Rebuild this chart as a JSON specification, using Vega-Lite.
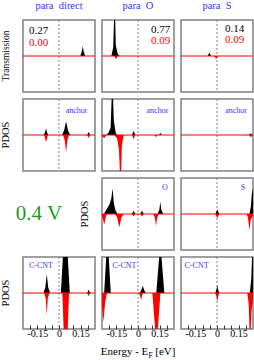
{
"$schema":"https://vega.github.io/schema/vega-lite/v6.json",
"padding":{"left":0,"top":0,"right":0,"bottom":4},
"datasets":{"curves":[
{"p":"T1","s":"up","x":-0.25,"y":0},{"p":"T1","s":"up","x":0.148,"y":0},{"p":"T1","s":"up","x":0.158,"y":0.12},{"p":"T1","s":"up","x":0.165,"y":0.27},{"p":"T1","s":"up","x":0.172,"y":0.12},{"p":"T1","s":"up","x":0.182,"y":0},{"p":"T1","s":"up","x":0.25,"y":0},
{"p":"T1","s":"dn","x":-0.25,"y":0},{"p":"T1","s":"dn","x":0.25,"y":0},
{"p":"T2","s":"up","x":-0.25,"y":0},{"p":"T2","s":"up","x":-0.185,"y":0},{"p":"T2","s":"up","x":-0.172,"y":0.25},{"p":"T2","s":"up","x":-0.162,"y":1.6},{"p":"T2","s":"up","x":-0.154,"y":0.3},{"p":"T2","s":"up","x":-0.14,"y":0.05},{"p":"T2","s":"up","x":-0.125,"y":0},{"p":"T2","s":"up","x":0.25,"y":0},
{"p":"T2","s":"dn","x":-0.25,"y":0},{"p":"T2","s":"dn","x":-0.165,"y":0},{"p":"T2","s":"dn","x":-0.153,"y":-0.09},{"p":"T2","s":"dn","x":-0.142,"y":0},{"p":"T2","s":"dn","x":0.25,"y":0},
{"p":"T3","s":"up","x":-0.25,"y":0},{"p":"T3","s":"up","x":-0.066,"y":0},{"p":"T3","s":"up","x":-0.053,"y":0.09},{"p":"T3","s":"up","x":-0.04,"y":0},{"p":"T3","s":"up","x":0.25,"y":0},
{"p":"T3","s":"dn","x":-0.25,"y":0},{"p":"T3","s":"dn","x":-0.018,"y":0},{"p":"T3","s":"dn","x":-0.006,"y":-0.09},{"p":"T3","s":"dn","x":0.006,"y":0},{"p":"T3","s":"dn","x":0.25,"y":0},
{"p":"A1","s":"up","x":-0.25,"y":0},{"p":"A1","s":"up","x":-0.106,"y":0},{"p":"A1","s":"up","x":-0.097,"y":0.07},{"p":"A1","s":"up","x":-0.09,"y":0.19},{"p":"A1","s":"up","x":-0.083,"y":0.07},{"p":"A1","s":"up","x":-0.074,"y":0},{"p":"A1","s":"up","x":0.02,"y":0},{"p":"A1","s":"up","x":0.035,"y":0.12},{"p":"A1","s":"up","x":0.049,"y":0.38},{"p":"A1","s":"up","x":0.063,"y":0.12},{"p":"A1","s":"up","x":0.078,"y":0},{"p":"A1","s":"up","x":0.195,"y":0},{"p":"A1","s":"up","x":0.206,"y":0.08},{"p":"A1","s":"up","x":0.217,"y":0},{"p":"A1","s":"up","x":0.25,"y":0},
{"p":"A1","s":"dn","x":-0.25,"y":0},{"p":"A1","s":"dn","x":-0.103,"y":0},{"p":"A1","s":"dn","x":-0.09,"y":-0.2},{"p":"A1","s":"dn","x":-0.077,"y":0},{"p":"A1","s":"dn","x":0.028,"y":0},{"p":"A1","s":"dn","x":0.04,"y":-0.15},{"p":"A1","s":"dn","x":0.049,"y":-0.48},{"p":"A1","s":"dn","x":0.058,"y":-0.15},{"p":"A1","s":"dn","x":0.07,"y":0},{"p":"A1","s":"dn","x":0.195,"y":0},{"p":"A1","s":"dn","x":0.206,"y":-0.08},{"p":"A1","s":"dn","x":0.217,"y":0},{"p":"A1","s":"dn","x":0.25,"y":0},
{"p":"A2","s":"up","x":-0.25,"y":0},{"p":"A2","s":"up","x":-0.222,"y":0},{"p":"A2","s":"up","x":-0.205,"y":0.06},{"p":"A2","s":"up","x":-0.19,"y":0.2},{"p":"A2","s":"up","x":-0.178,"y":1.6},{"p":"A2","s":"up","x":-0.168,"y":0.4},{"p":"A2","s":"up","x":-0.155,"y":0.06},{"p":"A2","s":"up","x":-0.145,"y":0},{"p":"A2","s":"up","x":-0.042,"y":0},{"p":"A2","s":"up","x":-0.03,"y":0.11},{"p":"A2","s":"up","x":-0.018,"y":0},{"p":"A2","s":"up","x":0.145,"y":0},{"p":"A2","s":"up","x":0.155,"y":0.06},{"p":"A2","s":"up","x":0.165,"y":0},{"p":"A2","s":"up","x":0.25,"y":0},
{"p":"A2","s":"dn","x":-0.25,"y":-0.03},{"p":"A2","s":"dn","x":-0.234,"y":-0.09},{"p":"A2","s":"dn","x":-0.22,"y":0},{"p":"A2","s":"dn","x":-0.165,"y":0},{"p":"A2","s":"dn","x":-0.145,"y":-0.1},{"p":"A2","s":"dn","x":-0.132,"y":-0.4},{"p":"A2","s":"dn","x":-0.12,"y":-1.6},{"p":"A2","s":"dn","x":-0.112,"y":-0.3},{"p":"A2","s":"dn","x":-0.1,"y":0},{"p":"A2","s":"dn","x":-0.042,"y":0},{"p":"A2","s":"dn","x":-0.03,"y":-0.11},{"p":"A2","s":"dn","x":-0.018,"y":0},{"p":"A2","s":"dn","x":0.115,"y":0},{"p":"A2","s":"dn","x":0.125,"y":-0.06},{"p":"A2","s":"dn","x":0.135,"y":0},{"p":"A2","s":"dn","x":0.25,"y":0},
{"p":"A3","s":"up","x":-0.25,"y":0},{"p":"A3","s":"up","x":0.222,"y":0},{"p":"A3","s":"up","x":0.234,"y":0.05},{"p":"A3","s":"up","x":0.246,"y":0},{"p":"A3","s":"up","x":0.25,"y":0},
{"p":"A3","s":"dn","x":-0.25,"y":0},{"p":"A3","s":"dn","x":0.224,"y":0},{"p":"A3","s":"dn","x":0.236,"y":-0.06},{"p":"A3","s":"dn","x":0.248,"y":0},{"p":"A3","s":"dn","x":0.25,"y":0},
{"p":"O2","s":"up","x":-0.25,"y":0},{"p":"O2","s":"up","x":-0.237,"y":0},{"p":"O2","s":"up","x":-0.22,"y":0.12},{"p":"O2","s":"up","x":-0.2,"y":0.25},{"p":"O2","s":"up","x":-0.186,"y":0.42},{"p":"O2","s":"up","x":-0.176,"y":0.71},{"p":"O2","s":"up","x":-0.168,"y":0.3},{"p":"O2","s":"up","x":-0.155,"y":0.08},{"p":"O2","s":"up","x":-0.14,"y":0},{"p":"O2","s":"up","x":-0.042,"y":0},{"p":"O2","s":"up","x":-0.03,"y":0.09},{"p":"O2","s":"up","x":-0.018,"y":0},{"p":"O2","s":"up","x":0.016,"y":0},{"p":"O2","s":"up","x":0.028,"y":0.09},{"p":"O2","s":"up","x":0.04,"y":0},{"p":"O2","s":"up","x":0.135,"y":0},{"p":"O2","s":"up","x":0.148,"y":0.12},{"p":"O2","s":"up","x":0.155,"y":0.34},{"p":"O2","s":"up","x":0.162,"y":0.12},{"p":"O2","s":"up","x":0.175,"y":0},{"p":"O2","s":"up","x":0.25,"y":0},
{"p":"O2","s":"dn","x":-0.25,"y":-0.05},{"p":"O2","s":"dn","x":-0.234,"y":-0.29},{"p":"O2","s":"dn","x":-0.222,"y":-0.04},{"p":"O2","s":"dn","x":-0.205,"y":0},{"p":"O2","s":"dn","x":-0.16,"y":0},{"p":"O2","s":"dn","x":-0.145,"y":-0.1},{"p":"O2","s":"dn","x":-0.13,"y":-0.37},{"p":"O2","s":"dn","x":-0.115,"y":-0.1},{"p":"O2","s":"dn","x":-0.1,"y":0},{"p":"O2","s":"dn","x":-0.042,"y":0},{"p":"O2","s":"dn","x":-0.03,"y":-0.07},{"p":"O2","s":"dn","x":-0.018,"y":0},{"p":"O2","s":"dn","x":0.016,"y":0},{"p":"O2","s":"dn","x":0.028,"y":-0.07},{"p":"O2","s":"dn","x":0.04,"y":0},{"p":"O2","s":"dn","x":0.105,"y":0},{"p":"O2","s":"dn","x":0.117,"y":-0.1},{"p":"O2","s":"dn","x":0.125,"y":-0.33},{"p":"O2","s":"dn","x":0.133,"y":-0.1},{"p":"O2","s":"dn","x":0.145,"y":0},{"p":"O2","s":"dn","x":0.25,"y":0},
{"p":"S3","s":"up","x":-0.25,"y":0},{"p":"S3","s":"up","x":-0.012,"y":0},{"p":"S3","s":"up","x":0.002,"y":0.11},{"p":"S3","s":"up","x":0.016,"y":0},{"p":"S3","s":"up","x":0.225,"y":0},{"p":"S3","s":"up","x":0.235,"y":0.2},{"p":"S3","s":"up","x":0.245,"y":0.72},{"p":"S3","s":"up","x":0.25,"y":0.55},
{"p":"S3","s":"dn","x":-0.25,"y":0},{"p":"S3","s":"dn","x":-0.012,"y":0},{"p":"S3","s":"dn","x":0.002,"y":-0.12},{"p":"S3","s":"dn","x":0.016,"y":0},{"p":"S3","s":"dn","x":0.205,"y":0},{"p":"S3","s":"dn","x":0.215,"y":-0.1},{"p":"S3","s":"dn","x":0.225,"y":-0.45},{"p":"S3","s":"dn","x":0.235,"y":-0.15},{"p":"S3","s":"dn","x":0.25,"y":-0.05},
{"p":"C1","s":"up","x":-0.25,"y":0},{"p":"C1","s":"up","x":-0.108,"y":0},{"p":"C1","s":"up","x":-0.095,"y":0.15},{"p":"C1","s":"up","x":-0.085,"y":0.53},{"p":"C1","s":"up","x":-0.075,"y":0.15},{"p":"C1","s":"up","x":-0.062,"y":0},{"p":"C1","s":"up","x":0.013,"y":0},{"p":"C1","s":"up","x":0.044,"y":2.25},{"p":"C1","s":"up","x":0.075,"y":0},{"p":"C1","s":"up","x":0.195,"y":0},{"p":"C1","s":"up","x":0.206,"y":0.09},{"p":"C1","s":"up","x":0.217,"y":0},{"p":"C1","s":"up","x":0.25,"y":0},
{"p":"C1","s":"dn","x":-0.25,"y":0},{"p":"C1","s":"dn","x":-0.103,"y":0},{"p":"C1","s":"dn","x":-0.092,"y":-0.15},{"p":"C1","s":"dn","x":-0.085,"y":-0.61},{"p":"C1","s":"dn","x":-0.078,"y":-0.15},{"p":"C1","s":"dn","x":-0.067,"y":0},{"p":"C1","s":"dn","x":0.023,"y":0},{"p":"C1","s":"dn","x":0.0465,"y":-2.5},{"p":"C1","s":"dn","x":0.07,"y":0},{"p":"C1","s":"dn","x":0.195,"y":0},{"p":"C1","s":"dn","x":0.206,"y":-0.09},{"p":"C1","s":"dn","x":0.217,"y":0},{"p":"C1","s":"dn","x":0.25,"y":0},
{"p":"C2","s":"up","x":-0.25,"y":0},{"p":"C2","s":"up","x":-0.235,"y":0},{"p":"C2","s":"up","x":-0.212,"y":1.6},{"p":"C2","s":"up","x":-0.189,"y":0},{"p":"C2","s":"up","x":0.01,"y":0},{"p":"C2","s":"up","x":0.022,"y":0.07},{"p":"C2","s":"up","x":0.033,"y":0.2},{"p":"C2","s":"up","x":0.044,"y":0.07},{"p":"C2","s":"up","x":0.056,"y":0},{"p":"C2","s":"up","x":0.127,"y":0},{"p":"C2","s":"up","x":0.155,"y":1.4},{"p":"C2","s":"up","x":0.183,"y":0},{"p":"C2","s":"up","x":0.25,"y":0},
{"p":"C2","s":"dn","x":-0.25,"y":-0.35},{"p":"C2","s":"dn","x":-0.24,"y":-0.8},{"p":"C2","s":"dn","x":-0.228,"y":-0.25},{"p":"C2","s":"dn","x":-0.215,"y":0},{"p":"C2","s":"dn","x":0.005,"y":0},{"p":"C2","s":"dn","x":0.014,"y":-0.07},{"p":"C2","s":"dn","x":0.021,"y":-0.2},{"p":"C2","s":"dn","x":0.028,"y":-0.07},{"p":"C2","s":"dn","x":0.037,"y":0},{"p":"C2","s":"dn","x":0.1,"y":0},{"p":"C2","s":"dn","x":0.128,"y":-1.5},{"p":"C2","s":"dn","x":0.156,"y":0},{"p":"C2","s":"dn","x":0.25,"y":0},
{"p":"C3","s":"up","x":-0.25,"y":0},{"p":"C3","s":"up","x":-0.013,"y":0},{"p":"C3","s":"up","x":-0.004,"y":0.08},{"p":"C3","s":"up","x":0.002,"y":0.22},{"p":"C3","s":"up","x":0.008,"y":0.08},{"p":"C3","s":"up","x":0.017,"y":0},{"p":"C3","s":"up","x":0.228,"y":0},{"p":"C3","s":"up","x":0.238,"y":0.4},{"p":"C3","s":"up","x":0.248,"y":1.5},{"p":"C3","s":"up","x":0.25,"y":1.4},
{"p":"C3","s":"dn","x":-0.25,"y":0},{"p":"C3","s":"dn","x":-0.013,"y":0},{"p":"C3","s":"dn","x":-0.004,"y":-0.09},{"p":"C3","s":"dn","x":0.002,"y":-0.25},{"p":"C3","s":"dn","x":0.008,"y":-0.09},{"p":"C3","s":"dn","x":0.017,"y":0},{"p":"C3","s":"dn","x":0.21,"y":0},{"p":"C3","s":"dn","x":0.22,"y":-0.3},{"p":"C3","s":"dn","x":0.23,"y":-1.5},{"p":"C3","s":"dn","x":0.24,"y":-0.5},{"p":"C3","s":"dn","x":0.25,"y":-0.2}
]},
"columns":3,
"spacing":7,
"bounds":"flush",
"concat":[
{"width":72,"height":72,"title":{"text":"para\u00a0 direct"},"layer":[
 {"data":{"values":[{}]},"mark":{"type":"rule","strokeDash":[2,2],"color":"#808080","strokeWidth":1},"encoding":{"x":{"datum":0,"type":"quantitative","axis":null}}},
 {"data":{"name":"curves"},"transform":[{"filter":"datum.p==='T1'"}],"mark":{"type":"area","clip":true},"encoding":{"x":{"field":"x","type":"quantitative","scale":{"domain":[-0.25,0.25],"nice":false},"axis":null},"y":{"field":"y","type":"quantitative","stack":null,"scale":{"domain":[-1,1],"nice":false},"axis":null},"color":{"field":"s","type":"nominal","scale":{"domain":["up","dn"],"range":["black","red"]},"legend":null}}},
 {"data":{"values":[{}]},"mark":{"type":"rule","color":"red","strokeWidth":1},"encoding":{"y":{"datum":0,"type":"quantitative","axis":null}}},
 {"data":{"values":[{}]},"mark":{"type":"text","text":"Transmission","angle":270,"fontSize":9.5,"color":"black"},"encoding":{"x":{"datum":-0.365,"type":"quantitative","axis":null},"y":{"datum":0,"type":"quantitative","axis":null}}},
 {"data":{"values":[{}]},"mark":{"type":"text","text":"0.27","align":"left","fontSize":11,"color":"black"},"encoding":{"x":{"datum":-0.208,"type":"quantitative","axis":null},"y":{"datum":0.7,"type":"quantitative","axis":null}}},
 {"data":{"values":[{}]},"mark":{"type":"text","text":"0.00","align":"left","fontSize":11,"color":"red"},"encoding":{"x":{"datum":-0.208,"type":"quantitative","axis":null},"y":{"datum":0.37,"type":"quantitative","axis":null}}}
]},
{"width":72,"height":72,"title":{"text":"para\u00a0 O"},"layer":[
 {"data":{"values":[{}]},"mark":{"type":"rule","strokeDash":[2,2],"color":"#808080","strokeWidth":1},"encoding":{"x":{"datum":0,"type":"quantitative","axis":null}}},
 {"data":{"name":"curves"},"transform":[{"filter":"datum.p==='T2'"}],"mark":{"type":"area","clip":true},"encoding":{"x":{"field":"x","type":"quantitative","scale":{"domain":[-0.25,0.25],"nice":false},"axis":null},"y":{"field":"y","type":"quantitative","stack":null,"scale":{"domain":[-1,1],"nice":false},"axis":null},"color":{"field":"s","type":"nominal","scale":{"domain":["up","dn"],"range":["black","red"]},"legend":null}}},
 {"data":{"values":[{}]},"mark":{"type":"rule","color":"red","strokeWidth":1},"encoding":{"y":{"datum":0,"type":"quantitative","axis":null}}},
 {"data":{"values":[{}]},"mark":{"type":"text","text":"0.77","align":"right","fontSize":11,"color":"black"},"encoding":{"x":{"datum":0.224,"type":"quantitative","axis":null},"y":{"datum":0.73,"type":"quantitative","axis":null}}},
 {"data":{"values":[{}]},"mark":{"type":"text","text":"0.09","align":"right","fontSize":11,"color":"red"},"encoding":{"x":{"datum":0.224,"type":"quantitative","axis":null},"y":{"datum":0.42,"type":"quantitative","axis":null}}}
]},
{"width":72,"height":72,"title":{"text":"para\u00a0 S"},"layer":[
 {"data":{"values":[{}]},"mark":{"type":"rule","strokeDash":[2,2],"color":"#808080","strokeWidth":1},"encoding":{"x":{"datum":0,"type":"quantitative","axis":null}}},
 {"data":{"name":"curves"},"transform":[{"filter":"datum.p==='T3'"}],"mark":{"type":"area","clip":true},"encoding":{"x":{"field":"x","type":"quantitative","scale":{"domain":[-0.25,0.25],"nice":false},"axis":null},"y":{"field":"y","type":"quantitative","stack":null,"scale":{"domain":[-1,1],"nice":false},"axis":null},"color":{"field":"s","type":"nominal","scale":{"domain":["up","dn"],"range":["black","red"]},"legend":null}}},
 {"data":{"values":[{}]},"mark":{"type":"rule","color":"red","strokeWidth":1},"encoding":{"y":{"datum":0,"type":"quantitative","axis":null}}},
 {"data":{"values":[{}]},"mark":{"type":"text","text":"0.14","align":"right","fontSize":11,"color":"black"},"encoding":{"x":{"datum":0.19,"type":"quantitative","axis":null},"y":{"datum":0.74,"type":"quantitative","axis":null}}},
 {"data":{"values":[{}]},"mark":{"type":"text","text":"0.09","align":"right","fontSize":11,"color":"red"},"encoding":{"x":{"datum":0.19,"type":"quantitative","axis":null},"y":{"datum":0.44,"type":"quantitative","axis":null}}}
]},
{"width":72,"height":72,"layer":[
 {"data":{"values":[{}]},"mark":{"type":"rule","strokeDash":[2,2],"color":"#808080","strokeWidth":1},"encoding":{"x":{"datum":0,"type":"quantitative","axis":null}}},
 {"data":{"name":"curves"},"transform":[{"filter":"datum.p==='A1'"}],"mark":{"type":"area","clip":true},"encoding":{"x":{"field":"x","type":"quantitative","scale":{"domain":[-0.25,0.25],"nice":false},"axis":null},"y":{"field":"y","type":"quantitative","stack":null,"scale":{"domain":[-1,1],"nice":false},"axis":null},"color":{"field":"s","type":"nominal","scale":{"domain":["up","dn"],"range":["black","red"]},"legend":null}}},
 {"data":{"values":[{}]},"mark":{"type":"rule","color":"red","strokeWidth":1},"encoding":{"y":{"datum":0,"type":"quantitative","axis":null}}},
 {"data":{"values":[{}]},"mark":{"type":"text","text":"PDOS","angle":270,"fontSize":10.5,"color":"black"},"encoding":{"x":{"datum":-0.368,"type":"quantitative","axis":null},"y":{"datum":0,"type":"quantitative","axis":null}}},
 {"data":{"values":[{}]},"mark":{"type":"text","text":"anchor","fontSize":8,"color":"#3333ff"},"encoding":{"x":{"datum":0.122,"type":"quantitative","axis":null},"y":{"datum":0.67,"type":"quantitative","axis":null}}}
]},
{"width":72,"height":72,"layer":[
 {"data":{"values":[{}]},"mark":{"type":"rule","strokeDash":[2,2],"color":"#808080","strokeWidth":1},"encoding":{"x":{"datum":0,"type":"quantitative","axis":null}}},
 {"data":{"name":"curves"},"transform":[{"filter":"datum.p==='A2'"}],"mark":{"type":"area","clip":true},"encoding":{"x":{"field":"x","type":"quantitative","scale":{"domain":[-0.25,0.25],"nice":false},"axis":null},"y":{"field":"y","type":"quantitative","stack":null,"scale":{"domain":[-1,1],"nice":false},"axis":null},"color":{"field":"s","type":"nominal","scale":{"domain":["up","dn"],"range":["black","red"]},"legend":null}}},
 {"data":{"values":[{}]},"mark":{"type":"rule","color":"red","strokeWidth":1},"encoding":{"y":{"datum":0,"type":"quantitative","axis":null}}},
 {"data":{"values":[{}]},"mark":{"type":"text","text":"anchor","fontSize":8,"color":"#3333ff"},"encoding":{"x":{"datum":0.135,"type":"quantitative","axis":null},"y":{"datum":0.67,"type":"quantitative","axis":null}}}
]},
{"width":72,"height":72,"layer":[
 {"data":{"values":[{}]},"mark":{"type":"rule","strokeDash":[2,2],"color":"#808080","strokeWidth":1},"encoding":{"x":{"datum":0,"type":"quantitative","axis":null}}},
 {"data":{"name":"curves"},"transform":[{"filter":"datum.p==='A3'"}],"mark":{"type":"area","clip":true},"encoding":{"x":{"field":"x","type":"quantitative","scale":{"domain":[-0.25,0.25],"nice":false},"axis":null},"y":{"field":"y","type":"quantitative","stack":null,"scale":{"domain":[-1,1],"nice":false},"axis":null},"color":{"field":"s","type":"nominal","scale":{"domain":["up","dn"],"range":["black","red"]},"legend":null}}},
 {"data":{"values":[{}]},"mark":{"type":"rule","color":"red","strokeWidth":1},"encoding":{"y":{"datum":0,"type":"quantitative","axis":null}}},
 {"data":{"values":[{}]},"mark":{"type":"text","text":"anchor","fontSize":8,"color":"#3333ff"},"encoding":{"x":{"datum":0.132,"type":"quantitative","axis":null},"y":{"datum":0.67,"type":"quantitative","axis":null}}}
]},
{"width":72,"height":72,"view":{"stroke":null},"data":{"values":[{}]},"mark":{"type":"text","text":"0.4 V","fontSize":21,"color":"#1f9a1f"},"encoding":{"x":{"datum":-0.139,"type":"quantitative","scale":{"domain":[-0.25,0.25]},"axis":null},"y":{"datum":0,"type":"quantitative","scale":{"domain":[-1,1]},"axis":null}}},
{"width":72,"height":72,"layer":[
 {"data":{"values":[{}]},"mark":{"type":"rule","strokeDash":[2,2],"color":"#808080","strokeWidth":1},"encoding":{"x":{"datum":0,"type":"quantitative","axis":null}}},
 {"data":{"name":"curves"},"transform":[{"filter":"datum.p==='O2'"}],"mark":{"type":"area","clip":true},"encoding":{"x":{"field":"x","type":"quantitative","scale":{"domain":[-0.25,0.25],"nice":false},"axis":null},"y":{"field":"y","type":"quantitative","stack":null,"scale":{"domain":[-1,1],"nice":false},"axis":null},"color":{"field":"s","type":"nominal","scale":{"domain":["up","dn"],"range":["black","red"]},"legend":null}}},
 {"data":{"values":[{}]},"mark":{"type":"rule","color":"red","strokeWidth":1},"encoding":{"y":{"datum":0,"type":"quantitative","axis":null}}},
 {"data":{"values":[{}]},"mark":{"type":"text","text":"PDOS","angle":270,"fontSize":10.5,"color":"black"},"encoding":{"x":{"datum":-0.368,"type":"quantitative","axis":null},"y":{"datum":0,"type":"quantitative","axis":null}}},
 {"data":{"values":[{}]},"mark":{"type":"text","text":"O","fontSize":8,"color":"#3333ff"},"encoding":{"x":{"datum":0.1875,"type":"quantitative","axis":null},"y":{"datum":0.72,"type":"quantitative","axis":null}}}
]},
{"width":72,"height":72,"layer":[
 {"data":{"values":[{}]},"mark":{"type":"rule","strokeDash":[2,2],"color":"#808080","strokeWidth":1},"encoding":{"x":{"datum":0,"type":"quantitative","axis":null}}},
 {"data":{"name":"curves"},"transform":[{"filter":"datum.p==='S3'"}],"mark":{"type":"area","clip":true},"encoding":{"x":{"field":"x","type":"quantitative","scale":{"domain":[-0.25,0.25],"nice":false},"axis":null},"y":{"field":"y","type":"quantitative","stack":null,"scale":{"domain":[-1,1],"nice":false},"axis":null},"color":{"field":"s","type":"nominal","scale":{"domain":["up","dn"],"range":["black","red"]},"legend":null}}},
 {"data":{"values":[{}]},"mark":{"type":"rule","color":"red","strokeWidth":1},"encoding":{"y":{"datum":0,"type":"quantitative","axis":null}}},
 {"data":{"values":[{}]},"mark":{"type":"text","text":"S","fontSize":8,"color":"#3333ff"},"encoding":{"x":{"datum":0.18,"type":"quantitative","axis":null},"y":{"datum":0.72,"type":"quantitative","axis":null}}}
]},
{"width":72,"height":72,"layer":[
 {"data":{"values":[{}]},"mark":{"type":"rule","strokeDash":[2,2],"color":"#808080","strokeWidth":1},"encoding":{"x":{"datum":0,"type":"quantitative","axis":{"values":[-0.2,-0.15,-0.1,-0.05,0,0.05,0.1,0.15,0.2],"labelExpr":"abs(datum.value+0.15)<0.001?'-0.15':abs(datum.value)<0.001?'0':abs(datum.value-0.15)<0.001?'0.15':''","title":null}}}},
 {"data":{"name":"curves"},"transform":[{"filter":"datum.p==='C1'"}],"mark":{"type":"area","clip":true},"encoding":{"x":{"field":"x","type":"quantitative","scale":{"domain":[-0.25,0.25],"nice":false},"axis":{"values":[-0.2,-0.15,-0.1,-0.05,0,0.05,0.1,0.15,0.2],"labelExpr":"abs(datum.value+0.15)<0.001?'-0.15':abs(datum.value)<0.001?'0':abs(datum.value-0.15)<0.001?'0.15':''","title":null}},"y":{"field":"y","type":"quantitative","stack":null,"scale":{"domain":[-1,1],"nice":false},"axis":null},"color":{"field":"s","type":"nominal","scale":{"domain":["up","dn"],"range":["black","red"]},"legend":null}}},
 {"data":{"values":[{}]},"mark":{"type":"rule","color":"red","strokeWidth":1},"encoding":{"y":{"datum":0,"type":"quantitative","axis":null}}},
 {"data":{"values":[{}]},"mark":{"type":"text","text":"PDOS","angle":270,"fontSize":10.5,"color":"black"},"encoding":{"x":{"datum":-0.368,"type":"quantitative","axis":{"values":[-0.2,-0.15,-0.1,-0.05,0,0.05,0.1,0.15,0.2],"labelExpr":"abs(datum.value+0.15)<0.001?'-0.15':abs(datum.value)<0.001?'0':abs(datum.value-0.15)<0.001?'0.15':''","title":null}},"y":{"datum":0,"type":"quantitative","axis":null}}},
 {"data":{"values":[{}]},"mark":{"type":"text","text":"C-CNT","fontSize":8,"color":"#3333ff"},"encoding":{"x":{"datum":-0.125,"type":"quantitative","axis":{"values":[-0.2,-0.15,-0.1,-0.05,0,0.05,0.1,0.15,0.2],"labelExpr":"abs(datum.value+0.15)<0.001?'-0.15':abs(datum.value)<0.001?'0':abs(datum.value-0.15)<0.001?'0.15':''","title":null}},"y":{"datum":0.75,"type":"quantitative","axis":null}}}
]},
{"width":72,"height":72,"layer":[
 {"data":{"values":[{}]},"mark":{"type":"rule","strokeDash":[2,2],"color":"#808080","strokeWidth":1},"encoding":{"x":{"datum":0,"type":"quantitative","axis":{"values":[-0.2,-0.15,-0.1,-0.05,0,0.05,0.1,0.15,0.2],"labelExpr":"abs(datum.value+0.15)<0.001?'-0.15':abs(datum.value)<0.001?'0':abs(datum.value-0.15)<0.001?'0.15':''","title":null}}}},
 {"data":{"name":"curves"},"transform":[{"filter":"datum.p==='C2'"}],"mark":{"type":"area","clip":true},"encoding":{"x":{"field":"x","type":"quantitative","scale":{"domain":[-0.25,0.25],"nice":false},"axis":{"values":[-0.2,-0.15,-0.1,-0.05,0,0.05,0.1,0.15,0.2],"labelExpr":"abs(datum.value+0.15)<0.001?'-0.15':abs(datum.value)<0.001?'0':abs(datum.value-0.15)<0.001?'0.15':''","title":null}},"y":{"field":"y","type":"quantitative","stack":null,"scale":{"domain":[-1,1],"nice":false},"axis":null},"color":{"field":"s","type":"nominal","scale":{"domain":["up","dn"],"range":["black","red"]},"legend":null}}},
 {"data":{"values":[{}]},"mark":{"type":"rule","color":"red","strokeWidth":1},"encoding":{"y":{"datum":0,"type":"quantitative","axis":null}}},
 {"data":{"values":[{}]},"mark":{"type":"text","text":"C-CNT","fontSize":8,"color":"#3333ff"},"encoding":{"x":{"datum":-0.094,"type":"quantitative","axis":{"values":[-0.2,-0.15,-0.1,-0.05,0,0.05,0.1,0.15,0.2],"labelExpr":"abs(datum.value+0.15)<0.001?'-0.15':abs(datum.value)<0.001?'0':abs(datum.value-0.15)<0.001?'0.15':''","title":null}},"y":{"datum":0.75,"type":"quantitative","axis":null}}},
 {"data":{"values":[{}]},"mark":{"type":"text","text":"Energy - E","align":"right","baseline":"alphabetic","fontSize":11,"color":"black"},"encoding":{"x":{"datum":0.0715,"type":"quantitative","axis":{"values":[-0.2,-0.15,-0.1,-0.05,0,0.05,0.1,0.15,0.2],"labelExpr":"abs(datum.value+0.15)<0.001?'-0.15':abs(datum.value)<0.001?'0':abs(datum.value-0.15)<0.001?'0.15':''","title":null}},"y":{"datum":-1.72,"type":"quantitative","axis":null}}},
 {"data":{"values":[{}]},"mark":{"type":"text","text":"F","align":"left","baseline":"alphabetic","fontSize":7.5,"color":"black"},"encoding":{"x":{"datum":0.073,"type":"quantitative","axis":{"values":[-0.2,-0.15,-0.1,-0.05,0,0.05,0.1,0.15,0.2],"labelExpr":"abs(datum.value+0.15)<0.001?'-0.15':abs(datum.value)<0.001?'0':abs(datum.value-0.15)<0.001?'0.15':''","title":null}},"y":{"datum":-1.81,"type":"quantitative","axis":null}}},
 {"data":{"values":[{}]},"mark":{"type":"text","text":"[eV]","align":"left","baseline":"alphabetic","fontSize":11,"color":"black"},"encoding":{"x":{"datum":0.12,"type":"quantitative","axis":{"values":[-0.2,-0.15,-0.1,-0.05,0,0.05,0.1,0.15,0.2],"labelExpr":"abs(datum.value+0.15)<0.001?'-0.15':abs(datum.value)<0.001?'0':abs(datum.value-0.15)<0.001?'0.15':''","title":null}},"y":{"datum":-1.72,"type":"quantitative","axis":null}}}
]},
{"width":72,"height":72,"layer":[
 {"data":{"values":[{}]},"mark":{"type":"rule","strokeDash":[2,2],"color":"#808080","strokeWidth":1},"encoding":{"x":{"datum":0,"type":"quantitative","axis":{"values":[-0.2,-0.15,-0.1,-0.05,0,0.05,0.1,0.15,0.2],"labelExpr":"abs(datum.value+0.15)<0.001?'-0.15':abs(datum.value)<0.001?'0':abs(datum.value-0.15)<0.001?'0.15':''","title":null}}}},
 {"data":{"name":"curves"},"transform":[{"filter":"datum.p==='C3'"}],"mark":{"type":"area","clip":true},"encoding":{"x":{"field":"x","type":"quantitative","scale":{"domain":[-0.25,0.25],"nice":false},"axis":{"values":[-0.2,-0.15,-0.1,-0.05,0,0.05,0.1,0.15,0.2],"labelExpr":"abs(datum.value+0.15)<0.001?'-0.15':abs(datum.value)<0.001?'0':abs(datum.value-0.15)<0.001?'0.15':''","title":null}},"y":{"field":"y","type":"quantitative","stack":null,"scale":{"domain":[-1,1],"nice":false},"axis":null},"color":{"field":"s","type":"nominal","scale":{"domain":["up","dn"],"range":["black","red"]},"legend":null}}},
 {"data":{"values":[{}]},"mark":{"type":"rule","color":"red","strokeWidth":1},"encoding":{"y":{"datum":0,"type":"quantitative","axis":null}}},
 {"data":{"values":[{}]},"mark":{"type":"text","text":"C-CNT","fontSize":8,"color":"#3333ff"},"encoding":{"x":{"datum":-0.142,"type":"quantitative","axis":{"values":[-0.2,-0.15,-0.1,-0.05,0,0.05,0.1,0.15,0.2],"labelExpr":"abs(datum.value+0.15)<0.001?'-0.15':abs(datum.value)<0.001?'0':abs(datum.value-0.15)<0.001?'0.15':''","title":null}},"y":{"datum":0.75,"type":"quantitative","axis":null}}}
]}
],
"config":{
 "font":"Liberation Serif",
 "view":{"stroke":"#808080","strokeWidth":1.5},
 "text":{"font":"Liberation Serif"},
 "axis":{"grid":false,"domain":false,"titleFont":"Liberation Serif","titleFontWeight":"normal","titleColor":"black","labelFont":"Liberation Serif","labelColor":"black"},
 "axisX":{"tickSize":-4,"tickColor":"#333333","labelFontSize":10,"labelPadding":3,"labelFlush":false,"labelOverlap":false},
 "title":{"font":"Liberation Serif","fontSize":10.5,"fontWeight":"normal","color":"#3333ff","offset":8}
}
}
